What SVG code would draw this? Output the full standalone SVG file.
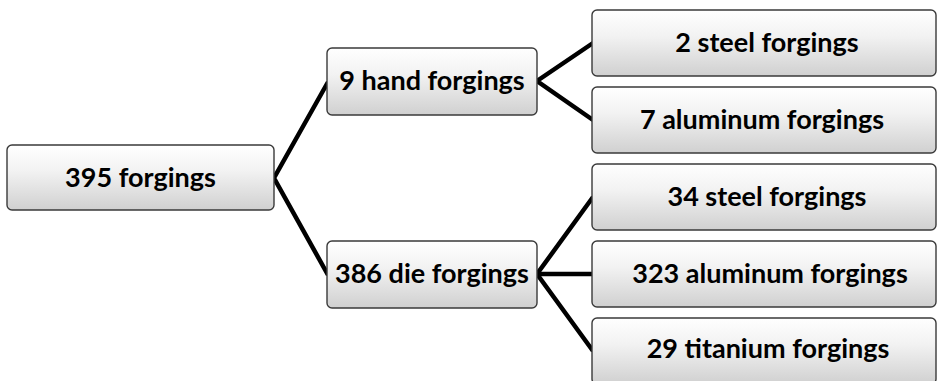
<svg xmlns="http://www.w3.org/2000/svg" width="938" height="381" viewBox="0 0 938 381">
<style>
.box{fill:url(#g);stroke:#3a3a3a;stroke-width:1.4}
.t{font-family:Lato,"Open Sans","Noto Sans",sans-serif;font-weight:bold;font-size:27px;fill:#000;text-anchor:middle}
.c{stroke:#000;stroke-width:4.5;fill:none;stroke-linejoin:miter}
</style>
<defs>
<linearGradient id="g" x1="0" y1="0" x2="0" y2="1">
<stop offset="0" stop-color="#ffffff"/>
<stop offset="0.4" stop-color="#f2f2f2"/>
<stop offset="1" stop-color="#d0d0d0"/>
</linearGradient>
</defs>
<rect width="938" height="381" fill="#fff"/>
<g id="connectors">
<polyline class="c" points="328,82 274,178 328,275"/>
<polyline class="c" points="593,43 537,81 593,120"/>
<polyline class="c" points="593,197 537,274 593,351"/>
<line class="c" x1="537" y1="274" x2="593" y2="274"/>
</g>
<g id="n-root"><rect class="box" x="7" y="145" width="267" height="65" rx="5"/><text class="t" x="140.5" y="187">395 forgings</text></g>
<g id="n-hand"><rect class="box" x="327" y="48" width="210" height="67" rx="5"/><text class="t" x="432" y="90">9 hand forgings</text></g>
<g id="n-die"><rect class="box" x="327" y="241" width="210" height="67" rx="5"/><text class="t" x="432" y="283">386 die forgings</text></g>
<g id="n-hs"><rect class="box" x="592" y="10" width="344" height="66" rx="5"/><text class="t" x="767" y="52">2 steel forgings</text></g>
<g id="n-ha"><rect class="box" x="592" y="87" width="344" height="66" rx="5"/><text class="t" x="762" y="129">7 aluminum forgings</text></g>
<g id="n-ds"><rect class="box" x="592" y="164" width="344" height="66" rx="5"/><text class="t" x="767" y="206">34 steel forgings</text></g>
<g id="n-da"><rect class="box" x="592" y="241" width="344" height="66" rx="5"/><text class="t" x="770" y="283">323 aluminum forgings</text></g>
<g id="n-dt"><rect class="box" x="592" y="318" width="344" height="66" rx="5"/><text class="t" x="768" y="358">29 titanium forgings</text></g>
</svg>
